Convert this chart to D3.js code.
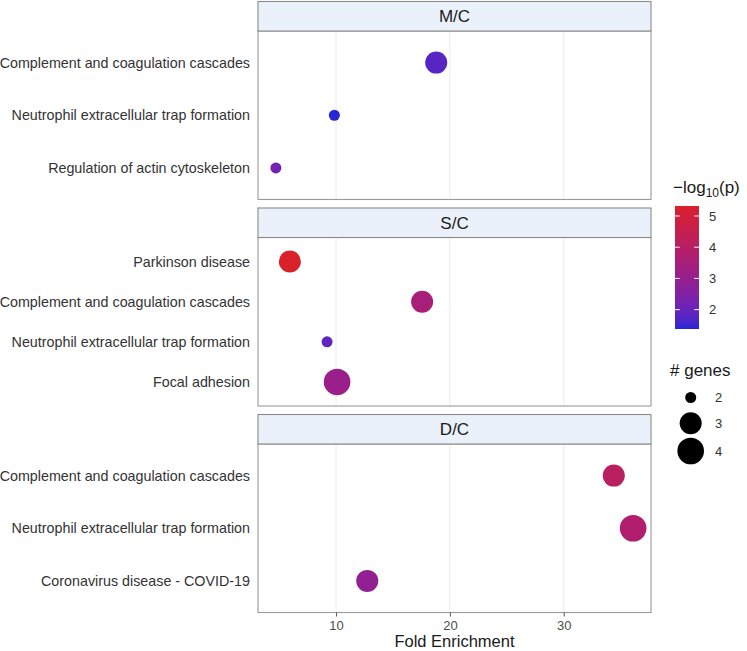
<!DOCTYPE html>
<html>
<head>
<meta charset="utf-8">
<script src="https://cdn.jsdelivr.net/npm/d3@7/dist/d3.min.js"></script>
<style>
  html, body { margin: 0; padding: 0; background: #fff; }
  svg { display: block; font-family: "Liberation Sans", Arial, Helvetica, sans-serif; }
</style>
</head>
<body>
<svg id="chart" width="747" height="651"></svg>
<script>
// ---------------- data ----------------
const panelNames = ["M/C", "S/C", "D/C"];

const mcTerms = ["Complement and coagulation cascades", "Neutrophil extracellular trap formation", "Regulation of actin cytoskeleton"];
const mcFold  = [18.8, 9.85, 4.71];
const mcGenes = [3, 2, 2];
const mcLogP  = [1.8, 1.38, 2.2];

const scTerms = ["Parkinson disease", "Complement and coagulation cascades", "Neutrophil extracellular trap formation", "Focal adhesion"];
const scFold  = [5.94, 17.56, 9.21, 10.09];
const scGenes = [3, 3, 2, 4];
const scLogP  = [5.32, 3.5, 1.9, 3.1];

const dcTerms = ["Complement and coagulation cascades", "Neutrophil extracellular trap formation", "Coronavirus disease - COVID-19"];
const dcFold  = [34.4, 36.1, 12.74];
const dcGenes = [3, 4, 3];
const dcLogP  = [4.1, 3.8, 2.9];

const xTicks = [10, 20, 30];
const colorTicks = [2, 3, 4, 5];
const sizeTicks = [2, 3, 4];
const xTitle = "Fold Enrichment";
const sizeTitle = "# genes";

// ---------------- build ----------------
const panels = [
  { name: panelNames[0], terms: mcTerms, fold: mcFold, genes: mcGenes, logp: mcLogP },
  { name: panelNames[1], terms: scTerms, fold: scFold, genes: scGenes, logp: scLogP },
  { name: panelNames[2], terms: dcTerms, fold: dcFold, genes: dcGenes, logp: dcLogP }
];
const allFold = [].concat(mcFold, scFold, dcFold);
const allLogP = [].concat(mcLogP, scLogP, dcLogP);
const allGenes = [].concat(mcGenes, scGenes, dcGenes);

const svg = d3.select("#chart");

const left = 258, right = 651;
const top0 = 1.5, stripH = 29.5, plotH = 168.5, gap = 8.5;

const fMin = d3.min(allFold), fMax = d3.max(allFold), fPad = (fMax - fMin) * 0.05;
const x = d3.scaleLinear().domain([fMin - fPad, fMax + fPad]).range([left, right]);

const pMin = d3.min(allLogP), pMax = d3.max(allLogP);
const color = d3.scaleLinear().domain([pMin, pMax]).range(["#2727d6", "#d9212a"]).interpolate(d3.interpolateLab);

const gMin = d3.min(allGenes), gMax = d3.max(allGenes);
const rLin = d3.scaleLinear().domain([0, 1]).range([5.5, 13.3]);
const radius = g => rLin(Math.sqrt((g - gMin) / (gMax - gMin)));

const textCol = "#333333";

panels.forEach((p, i) => {
  const sTop = top0 + i * (stripH + plotH + gap);
  const pTop = sTop + stripH;
  const pBot = pTop + plotH;
  const y = d3.scalePoint().domain(p.terms).range([pTop, pBot]).padding(0.6);

  // panel background + gridlines
  svg.append("rect").attr("x", left).attr("y", pTop).attr("width", right - left).attr("height", plotH).attr("fill", "#fff");
  svg.append("g").selectAll("line").data(xTicks).join("line")
    .attr("x1", d => x(d)).attr("x2", d => x(d))
    .attr("y1", pTop).attr("y2", pBot)
    .attr("stroke", "#ebebeb").attr("stroke-width", 1);

  // points
  const rows = p.terms.map((t, k) => ({ term: t, fold: p.fold[k], genes: p.genes[k], logp: p.logp[k] }));
  svg.append("g").selectAll("circle").data(rows).join("circle")
    .attr("cx", d => x(d.fold)).attr("cy", d => y(d.term))
    .attr("r", d => radius(d.genes))
    .attr("fill", d => color(d.logp));

  // panel border
  svg.append("rect").attr("x", left).attr("y", pTop).attr("width", right - left).attr("height", plotH)
    .attr("fill", "none").attr("stroke", "#9a9a9a").attr("stroke-width", 1.1);

  // strip
  svg.append("rect").attr("x", left).attr("y", sTop).attr("width", right - left).attr("height", stripH)
    .attr("fill", "#eaf1fa").attr("stroke", "#8a8a8a").attr("stroke-width", 1.1);
  svg.append("text").attr("x", (left + right) / 2).attr("y", sTop + stripH / 2).attr("dy", "0.36em")
    .attr("text-anchor", "middle").attr("font-size", 17).attr("fill", "#1a1a1a").text(p.name);

  // y labels
  const yAxis = d3.axisLeft(y).tickSize(0).tickPadding(8);
  const ga = svg.append("g").attr("transform", `translate(${left},0)`).call(yAxis);
  ga.select(".domain").remove();
  ga.selectAll("text").attr("font-size", 14.3).attr("fill", textCol).attr("font-family", null);

  if (i === panels.length - 1) {
    const xa = svg.append("g").attr("transform", `translate(0,${pBot})`)
      .call(d3.axisBottom(x).tickValues(xTicks).tickSize(4).tickPadding(4).tickFormat(d3.format("d")));
    xa.select(".domain").remove();
    xa.selectAll("line").attr("stroke", "#555");
    xa.selectAll("text").attr("font-size", 13).attr("fill", "#4d4d4d").attr("font-family", null);
    svg.append("text").attr("x", (left + right) / 2).attr("y", 647)
      .attr("text-anchor", "middle").attr("font-size", 16.5).attr("fill", "#1a1a1a").text(xTitle);
  }
});

// ---------------- colour legend ----------------
const barX = 675, barW = 24, barTop = 206, barBot = 329;
const cy = d3.scaleLinear().domain([pMin, pMax]).range([barBot, barTop]);
const defs = svg.append("defs");
const grad = defs.append("linearGradient").attr("id", "cgrad").attr("x1", 0).attr("y1", 1).attr("x2", 0).attr("y2", 0);
d3.range(0, 1.0001, 0.05).forEach(t => {
  grad.append("stop").attr("offset", t).attr("stop-color", color(pMin + t * (pMax - pMin)));
});
const title = svg.append("text").attr("x", 673).attr("y", 193).attr("font-size", 17).attr("fill", "#1a1a1a");
title.append("tspan").text("\u2212log");
title.append("tspan").attr("font-size", 12).attr("dy", 4).text("10");
title.append("tspan").attr("dy", -4).text("(p)");
svg.append("rect").attr("x", barX).attr("y", barTop).attr("width", barW).attr("height", barBot - barTop).attr("fill", "url(#cgrad)");
const ct = svg.append("g");
colorTicks.forEach(v => {
  ct.append("line").attr("x1", barX).attr("x2", barX + 4.8).attr("y1", cy(v)).attr("y2", cy(v)).attr("stroke", "#fff").attr("stroke-width", 1);
  ct.append("line").attr("x1", barX + barW - 4.8).attr("x2", barX + barW).attr("y1", cy(v)).attr("y2", cy(v)).attr("stroke", "#fff").attr("stroke-width", 1);
  ct.append("text").attr("x", 709).attr("y", cy(v)).attr("dy", "0.36em").attr("font-size", 13).attr("fill", textCol).text(v);
});

// ---------------- size legend ----------------
svg.append("text").attr("x", 670).attr("y", 376).attr("font-size", 17).attr("fill", "#1a1a1a").text(sizeTitle);
const keyY = [397.5, 423.3, 451];
sizeTicks.forEach((g, k) => {
  svg.append("circle").attr("cx", 690.7).attr("cy", keyY[k]).attr("r", radius(g)).attr("fill", "#000");
  svg.append("text").attr("x", 715).attr("y", keyY[k]).attr("dy", "0.36em").attr("font-size", 13).attr("fill", textCol).text(g);
});
</script>
</body>
</html>
